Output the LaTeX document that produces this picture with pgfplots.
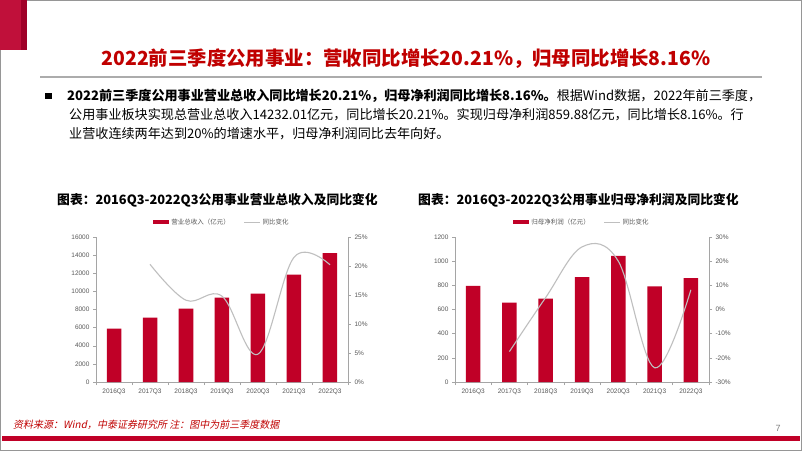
\documentclass[border=0pt]{standalone}
\usepackage{pgfplots}
\pgfplotsset{compat=1.18}
\usepackage{fontspec}
\setmainfont{Liberation Sans}
\newfontfamily\cjk{Noto Sans CJK SC}
\newfontfamily\cjkit[FakeSlant=0.2]{Noto Sans CJK SC}
\newfontfamily\arial{Liberation Sans}
\definecolor{barred}{RGB}{192,0,39}
\definecolor{titlered}{RGB}{192,0,0}
\definecolor{hdrred}{RGB}{192,16,58}
\definecolor{hdrdark}{RGB}{160,0,40}
\definecolor{linegray}{RGB}{191,191,191}
\definecolor{axgray}{RGB}{165,165,165}
\definecolor{tickgray}{RGB}{89,89,89}
\definecolor{framegray}{RGB}{150,150,150}
\pgfplotsset{
  mybase/.style={scale only axis, height=145pt, xmin=-0.5, xmax=6.5,
    axis line style={axgray, line width=0.5pt},
    tick style={axgray, line width=0.5pt},
    tick label style={font=\arial\fontsize{6.5}{7}\selectfont, text=tickgray},
    /pgf/number format/assume math mode=true,
    scaled y ticks=false, /pgf/number format/1000 sep={},
    tick align=outside, major tick length=3pt, minor tick length=3pt, clip=false},
  barax/.style={mybase, axis x line*=bottom, axis y line*=left,
    xtick={0,...,6},
    xticklabels={2016Q3,2017Q3,2018Q3,2019Q3,2020Q3,2021Q3,2022Q3},
    major x tick style={draw=none},
    minor xtick={-0.5,0.5,...,6.5},
    legend style={at={(0.5,1)}, anchor=south, yshift=9pt, draw=none, fill=none,
      legend columns=2, font=\cjk\fontsize{6.5}{7}\selectfont, text=tickgray,
      /tikz/every even column/.append style={column sep=12pt}, inner sep=0pt}},
  lineax/.style={mybase, axis y line*=right, axis x line=none,
    yticklabel={\pgfmathprintnumber{\tick}\%}}
}
\begin{document}
\begin{tikzpicture}
\begin{scope}[x=1pt,y=1pt]
\useasboundingbox (0,0) rectangle (802,451);
\fill[white] (0,0) rectangle (802,451);
\draw[framegray, line width=1.2pt] (0.6,0.6) rectangle (801.4,450.4);
\fill[hdrred] (0,451) rectangle (27,401);
\fill[hdrdark] (21,451) rectangle (27,401);
\node[text=titlered, font=\cjk\bfseries\fontsize{19.4}{22}\selectfont] at (406,392) {2022前三季度公用事业：营收同比增长20.21\%，归母同比增长8.16\%};
\draw[gray!65, line width=2.5pt] (40,374) -- (762,374);
\fill[black] (45,351.8) rectangle (51.5,358.3);
\begin{scope}[every node/.style={anchor=west, inner sep=0pt, font=\cjk\fontsize{13.1}{15}\selectfont}]
\node at (67,355) {{\bfseries 2022前三季度公用事业营业总收入同比增长20.21\%，归母净利润同比增长8.16\%。}根据Wind数据，2022年前三季度，};
\node at (69,336) {公用事业板块实现总营业总收入14232.01亿元，同比增长20.21\%。实现归母净利润859.88亿元，同比增长8.16\%。行};
\node at (69,317) {业营收连续两年达到20\%的增速水平，归母净利润同比去年向好。};
\end{scope}
\node[font=\cjk\bfseries\fontsize{12.8}{15}\selectfont] at (217.5,251) {图表：2016Q3-2022Q3公用事业营业总收入及同比变化};
\node[font=\cjk\bfseries\fontsize{12.8}{15}\selectfont] at (578.5,251) {图表：2016Q3-2022Q3公用事业归母净利润及同比变化};
\node[anchor=west, inner sep=0pt, text=titlered, font=\cjkit\fontsize{10}{12}\selectfont] at (13,26) {资料来源：Wind，中泰证券研究所 注：图中为前三季度数据};
\node[text=gray, font=\arial\fontsize{9}{10}\selectfont] at (778,23) {7};
\fill[barred] (2,10) rectangle (800,15.5);
\end{scope}
% left chart
\begin{axis}[barax, at={(96pt,69pt)}, anchor=south west, width=252pt,
  ymin=0, ymax=16000, ytick={0,2000,...,16000}]
\addplot[ybar, bar width=14.5pt, bar shift=0pt, fill=barred, draw=none,
  legend image code/.code={\fill[barred] (0pt,-2pt) rectangle (16pt,2pt);}]
  coordinates {(0,5900) (1,7100) (2,8100) (3,9300) (4,9750) (5,11850) (6,14232.01)};
\addlegendentry{营业总收入（亿元）}
\addlegendimage{legend image code/.code={\draw[linegray, line width=0.8pt] (0pt,0pt) -- (16pt,0pt);}}
\addlegendentry{同比变化}
\end{axis}
\begin{axis}[lineax, at={(96pt,69pt)}, anchor=south west, width=252pt,
  ymin=0, ymax=25, ytick={0,5,...,25}]
\addplot[linegray, line width=1.1pt, smooth, tension=0.6, no marks]
  coordinates {(1,20.3) (2,14.1) (3,14.8) (4,4.8) (5,21.5) (6,20.21)};
\end{axis}
% right chart
\begin{axis}[barax, at={(455pt,69pt)}, anchor=south west, width=254pt,
  ymin=0, ymax=1200, ytick={0,200,...,1200}]
\addplot[ybar, bar width=14.5pt, bar shift=0pt, fill=barred, draw=none,
  legend image code/.code={\fill[barred] (0pt,-2pt) rectangle (16pt,2pt);}]
  coordinates {(0,795) (1,657) (2,690) (3,869) (4,1043) (5,792) (6,859.88)};
\addlegendentry{归母净利润（亿元）}
\addlegendimage{legend image code/.code={\draw[linegray, line width=0.8pt] (0pt,0pt) -- (16pt,0pt);}}
\addlegendentry{同比变化}
\end{axis}
\begin{axis}[lineax, at={(455pt,69pt)}, anchor=south west, width=254pt,
  ymin=-30, ymax=30, ytick={-30,-20,...,30}]
\addplot[linegray, line width=1.1pt, smooth, tension=0.6, no marks]
  coordinates {(1,-17.4) (2,5.0) (3,25.9) (4,20.0) (5,-24.1) (6,8.16)};
\end{axis}
\end{tikzpicture}
\end{document}
